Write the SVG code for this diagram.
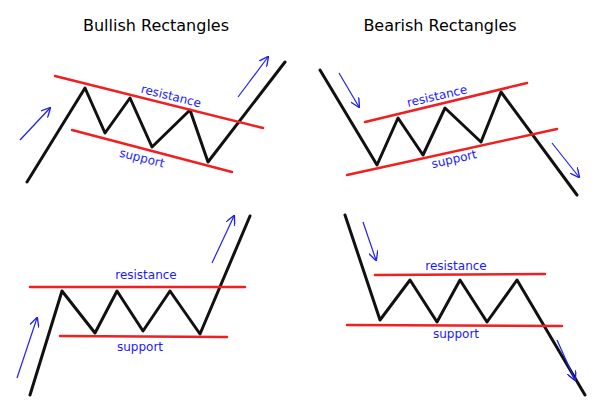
<svg xmlns="http://www.w3.org/2000/svg" width="600" height="413" viewBox="0 0 600 413">
<style>
.t{font-family:Verdana,"DejaVu Sans",sans-serif;font-size:16px;fill:#000;text-anchor:middle}
.l{font-family:Verdana,"DejaVu Sans",sans-serif;font-size:12px;fill:#1a1aff;text-anchor:middle}
.p{fill:none;stroke:#111;stroke-width:3;stroke-linejoin:round;stroke-linecap:round}
.r{stroke:#f02020;stroke-width:2.5;stroke-linecap:round}
.a{stroke:#2020ee;stroke-width:1.2;fill:none;marker-end:url(#ah)}
</style>
<defs><marker id="ah" viewBox="0 0 10 10" refX="9" refY="5" markerWidth="8" markerHeight="8" orient="auto"><path d="M0,0 L10,5 L0,10" fill="none" stroke="#2020ee" stroke-width="1.4"/></marker></defs>
<rect width="600" height="413" fill="#fff"/>
<text class="t" x="156" y="31">Bullish Rectangles</text>
<text class="t" x="440" y="31">Bearish Rectangles</text>
<g id="bull1">
<polyline class="p" points="27,182 85,88 105,133 130,98 152,147 190,110 208,162 285,62"/>
<line class="r" x1="55" y1="76" x2="263" y2="128"/>
<line class="r" x1="72" y1="130" x2="232" y2="172"/>
<text class="l" transform="translate(170,100) rotate(14)">resistance</text>
<text class="l" transform="translate(141,162) rotate(14)">support</text>
</g>
<g id="bear1">
<polyline class="p" points="320,70 377,165 398,118 423,155 445,108 481,142 501,92 577,195"/>
<line class="r" x1="365" y1="122" x2="527" y2="83"/>
<line class="r" x1="347" y1="175" x2="557" y2="129"/>
<text class="l" transform="translate(438,100) rotate(-13)">resistance</text>
<text class="l" transform="translate(455,163) rotate(-13)">support</text>
</g>
<g id="bull2">
<polyline class="p" points="30,395 62,291 95,333 117,291 143,331 170,291 200,334 250,216"/>
<line class="r" x1="30" y1="287" x2="245" y2="287"/>
<line class="r" x1="60" y1="336" x2="227" y2="337"/>
<text class="l" x="146" y="279">resistance</text>
<text class="l" x="140" y="351">support</text>
</g>
<g id="bear2">
<polyline class="p" points="345,215 380,320 410,280 437,322 460,280 487,322 517,280 585,395"/>
<line class="r" x1="375" y1="275" x2="545" y2="274"/>
<line class="r" x1="347" y1="325" x2="562" y2="326"/>
<text class="l" x="456" y="270">resistance</text>
<text class="l" x="456" y="338">support</text>
</g>
<g id="connectors">
<line class="a" x1="20" y1="140" x2="50" y2="108"/>
<line class="a" x1="238" y1="97" x2="268" y2="57"/>
<line class="a" x1="339" y1="73" x2="359" y2="107"/>
<line class="a" x1="552" y1="143" x2="579" y2="177"/>
<line class="a" x1="17" y1="378" x2="37" y2="318"/>
<line class="a" x1="212" y1="263" x2="234" y2="216"/>
<line class="a" x1="363" y1="222" x2="376" y2="260"/>
<line class="a" x1="557" y1="340" x2="575" y2="380"/>
</g>
</svg>
